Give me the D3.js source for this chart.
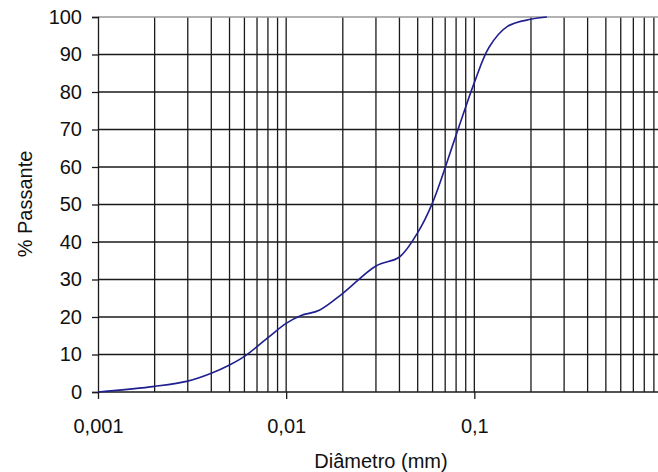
<!DOCTYPE html>
<html>
<head>
<meta charset="utf-8">
<script src="https://cdn.jsdelivr.net/npm/d3@7/dist/d3.min.js"></script>
<style>
  body { margin: 0; background: #fff; }
  text { font-family: "Liberation Sans", Arial, sans-serif; fill: #111; }
</style>
</head>
<body>
<div id="chart"></div>
<script>
// grain size curve
var diam = [0.001, 0.002, 0.003, 0.004, 0.005, 0.006, 0.008, 0.01, 0.012, 0.015,
    0.02, 0.03, 0.04, 0.05, 0.06, 0.08, 0.1, 0.12, 0.15, 0.2, 0.243];
var passing = [0, 1.5, 2.9, 5, 7.2, 9.5, 14.5, 18.3, 20.4, 21.8,
    26.3, 33.6, 36, 42.5, 50.5, 68.5, 82.5, 92, 97.5, 99.4, 100];
var yTicks = [0, 10, 20, 30, 40, 50, 60, 70, 80, 90, 100];
var xMajor = [0.001, 0.01, 0.1];
var xLabels = ["0,001", "0,01", "0,1"];

var width = 658, height = 472;
var margin = { left: 98, top: 17, bottom: 80 };

var svg = d3.select("#chart").append("svg")
    .attr("width", width)
    .attr("height", height);

var x = d3.scaleLog().domain([0.001, 1]).range([margin.left, 662.5]);
var y = d3.scaleLinear().domain([0, 100]).range([height - margin.bottom, margin.top]);

// minor grid values 1..9 per decade
var gridX = [];
[0.001, 0.01, 0.1].forEach(function (dec) {
    for (var i = 2; i <= 9; i++) gridX.push(dec * i);
});
gridX.push(0.01, 0.1);

var grid = svg.append("g");

grid.selectAll(".vline")
    .data(gridX)
    .enter().append("line")
    .attr("class", "vline")
    .attr("x1", function (d) { return x(d); })
    .attr("x2", function (d) { return x(d); })
    .attr("y1", y(100))
    .attr("y2", y(0))
    .attr("stroke", "#1a1a1a")
    .attr("stroke-width", 1.3);

grid.selectAll(".hline")
    .data(yTicks.filter(function (d) { return d > 0 && d < 100; }))
    .enter().append("line")
    .attr("class", "hline")
    .attr("x1", x(0.001))
    .attr("x2", width)
    .attr("y1", function (d) { return y(d); })
    .attr("y2", function (d) { return y(d); })
    .attr("stroke", "#1a1a1a")
    .attr("stroke-width", 1.3);

// top border, gray
svg.append("line")
    .attr("x1", x(0.001)).attr("x2", width)
    .attr("y1", y(100)).attr("y2", y(100))
    .attr("stroke", "#999")
    .attr("stroke-width", 1.5);

// y axis
var yAxis = d3.axisLeft(y).tickValues(yTicks).tickSize(6).tickPadding(10);
var gy = svg.append("g")
    .attr("transform", "translate(" + x(0.001) + ",0)")
    .call(yAxis);
gy.selectAll("text").style("font-size", "20px");

// x axis
var xAxis = d3.axisBottom(x).tickValues(xMajor)
    .tickFormat(function (d, i) { return xLabels[i]; })
    .tickSize(7).tickPadding(20);
var gx = svg.append("g")
    .attr("transform", "translate(0," + y(0) + ")")
    .call(xAxis);
gx.selectAll("text").style("font-size", "20px");

svg.selectAll(".domain").attr("stroke", "#1a1a1a").attr("stroke-width", 1.3);
svg.selectAll(".tick line").attr("stroke", "#1a1a1a").attr("stroke-width", 1.3);
gx.select(".domain").attr("d", "M" + x(0.001) + ",0H" + width);

// curve
var line = d3.line()
    .x(function (d, i) { return x(diam[i]); })
    .y(function (d) { return y(d); })
    .curve(d3.curveCatmullRom.alpha(0.5));

svg.append("path")
    .datum(passing)
    .attr("d", line)
    .attr("fill", "none")
    .attr("stroke", "#1f1f8f")
    .attr("stroke-width", 1.6);

// titles
svg.append("text")
    .attr("x", 381)
    .attr("y", 468)
    .attr("text-anchor", "middle")
    .style("font-size", "20px")
    .text("Diâmetro (mm)");

svg.append("text")
    .attr("transform", "translate(32,204) rotate(-90)")
    .attr("text-anchor", "middle")
    .style("font-size", "20px")
    .text("% Passante");
</script>
</body>
</html>
